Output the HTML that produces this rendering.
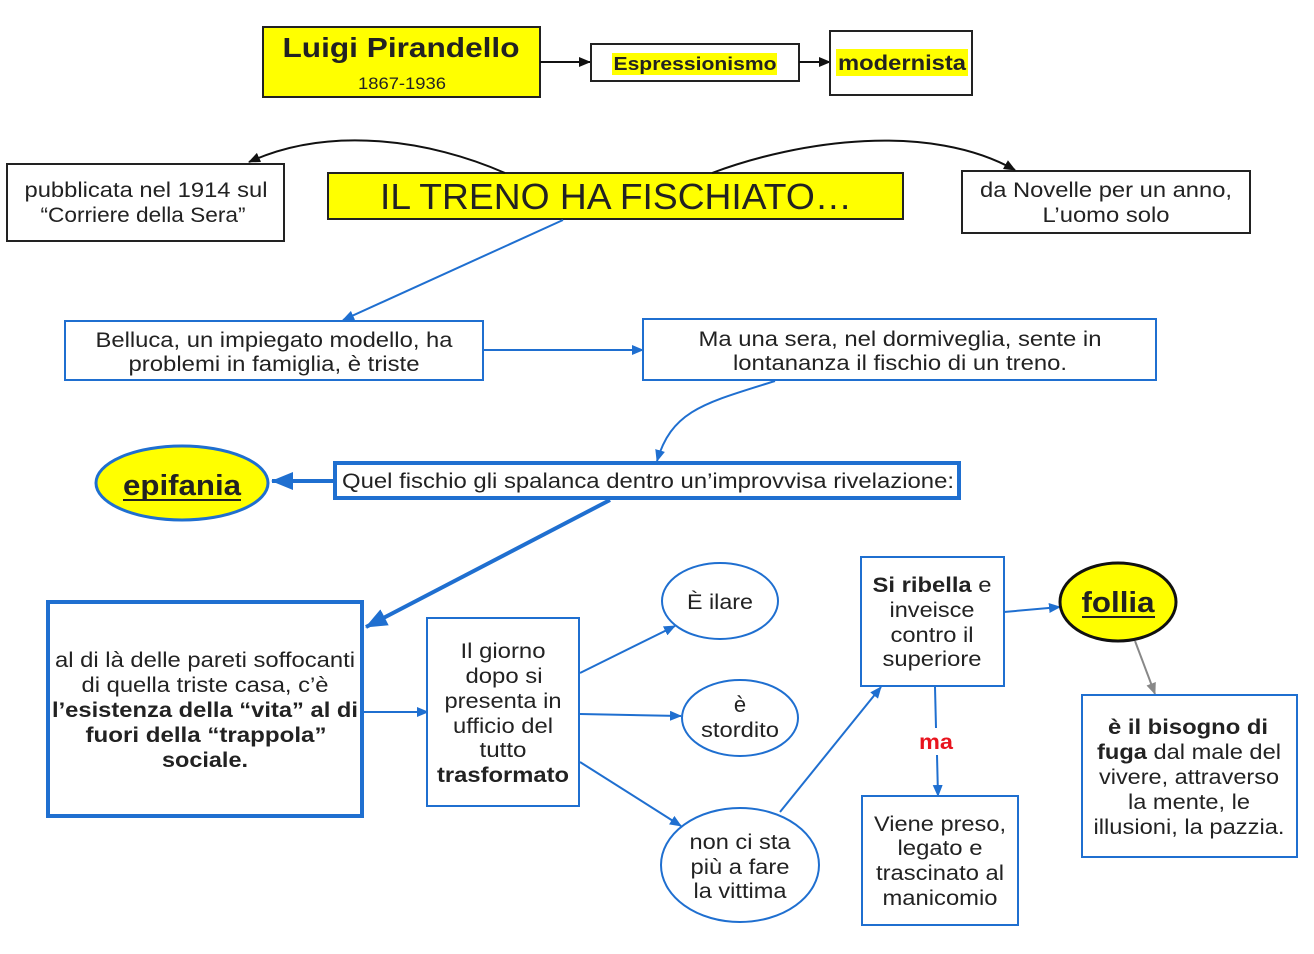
<!DOCTYPE html>
<html><head><meta charset="utf-8">
<style>
html,body{margin:0;padding:0;background:#fff;}
svg{display:block;}
text{font-family:"Liberation Sans",Arial,sans-serif;fill:#222;}
.b{font-weight:bold;}
</style></head>
<body>
<svg width="1314" height="954" viewBox="0 0 1314 954" xmlns="http://www.w3.org/2000/svg">
<defs>
<marker id="ak" markerUnits="userSpaceOnUse" markerWidth="12" markerHeight="10" refX="11" refY="5" orient="auto"><path d="M0,0 L12,5 L0,10 z" fill="#111"/></marker>
<marker id="ab" markerUnits="userSpaceOnUse" markerWidth="12" markerHeight="10" refX="11" refY="5" orient="auto"><path d="M0,0 L12,5 L0,10 z" fill="#1f6fd0"/></marker>
<marker id="ag" markerUnits="userSpaceOnUse" markerWidth="12" markerHeight="10" refX="11" refY="5" orient="auto"><path d="M0,0 L12,5 L0,10 z" fill="#888"/></marker>
<marker id="abig" markerUnits="userSpaceOnUse" markerWidth="22" markerHeight="18" refX="21" refY="9" orient="auto"><path d="M0,0 L22,9 L0,18 z" fill="#1f6fd0"/></marker>
</defs>

<!-- Top row -->
<rect x="263" y="27" width="277" height="70" fill="#ffff00" stroke="#222" stroke-width="2"/>
<text x="401" y="57" font-size="28" class="b" text-anchor="middle" textLength="237" lengthAdjust="spacingAndGlyphs">Luigi Pirandello</text>
<text x="402" y="89" font-size="17" text-anchor="middle" textLength="88" lengthAdjust="spacingAndGlyphs">1867-1936</text>
<line x1="540" y1="62" x2="590" y2="62" stroke="#111" stroke-width="2" marker-end="url(#ak)"/>

<rect x="591" y="44" width="208" height="37" fill="#fff" stroke="#222" stroke-width="2"/>
<rect x="612" y="53" width="165" height="22" fill="#ffff00"/>
<text x="695" y="70" font-size="18" class="b" text-anchor="middle" textLength="163" lengthAdjust="spacingAndGlyphs">Espressionismo</text>
<line x1="799" y1="62" x2="830" y2="62" stroke="#111" stroke-width="2" marker-end="url(#ak)"/>

<rect x="830" y="31" width="142" height="64" fill="#fff" stroke="#222" stroke-width="2"/>
<rect x="836" y="49" width="132" height="27" fill="#ffff00"/>
<text x="902" y="70" font-size="21" class="b" text-anchor="middle" textLength="128" lengthAdjust="spacingAndGlyphs">modernista</text>

<!-- Second row -->
<rect x="7" y="164" width="277" height="77" fill="#fff" stroke="#222" stroke-width="2"/>
<text x="146" y="197" font-size="21" text-anchor="middle" textLength="243" lengthAdjust="spacingAndGlyphs">pubblicata nel 1914 sul</text>
<text x="143" y="222" font-size="21" text-anchor="middle" textLength="205" lengthAdjust="spacingAndGlyphs">“Corriere della Sera”</text>

<rect x="328" y="173" width="575" height="46" fill="#ffff00" stroke="#222" stroke-width="2"/>
<text x="616" y="209" font-size="36" text-anchor="middle" textLength="472" lengthAdjust="spacingAndGlyphs">IL TRENO HA FISCHIATO…</text>

<rect x="962" y="171" width="288" height="62" fill="#fff" stroke="#222" stroke-width="2"/>
<text x="1106" y="197" font-size="21" text-anchor="middle" textLength="252" lengthAdjust="spacingAndGlyphs">da Novelle per un anno,</text>
<text x="1106" y="222" font-size="21" text-anchor="middle" textLength="127" lengthAdjust="spacingAndGlyphs">L’uomo solo</text>

<path d="M505,173 C430,140 330,125 249,162" fill="none" stroke="#111" stroke-width="2" marker-end="url(#ak)"/>
<path d="M712,173 C800,140 930,122 1015,170" fill="none" stroke="#111" stroke-width="2" marker-end="url(#ak)"/>

<line x1="563" y1="220" x2="343" y2="320" stroke="#1f6fd0" stroke-width="2" marker-end="url(#ab)"/>

<!-- Belluca / Ma una sera -->
<rect x="65" y="321" width="418" height="59" fill="#fff" stroke="#1f6fd0" stroke-width="2"/>
<text x="274" y="347" font-size="21" text-anchor="middle" textLength="357" lengthAdjust="spacingAndGlyphs">Belluca, un impiegato modello, ha</text>
<text x="274" y="371" font-size="21" text-anchor="middle" textLength="291" lengthAdjust="spacingAndGlyphs">problemi in famiglia, è triste</text>
<line x1="483" y1="350" x2="643" y2="350" stroke="#1f6fd0" stroke-width="2" marker-end="url(#ab)"/>

<rect x="643" y="319" width="513" height="61" fill="#fff" stroke="#1f6fd0" stroke-width="2"/>
<text x="900" y="346" font-size="21" text-anchor="middle" textLength="403" lengthAdjust="spacingAndGlyphs">Ma una sera, nel dormiveglia, sente in</text>
<text x="900" y="370" font-size="21" text-anchor="middle" textLength="334" lengthAdjust="spacingAndGlyphs">lontananza il fischio di un treno.</text>

<path d="M775,381 C705,403 672,410 657,461" fill="none" stroke="#1f6fd0" stroke-width="2" marker-end="url(#ab)"/>

<!-- Quel fischio -->
<rect x="335" y="463" width="624" height="35" fill="#fff" stroke="#1f6fd0" stroke-width="4"/>
<text x="648" y="488" font-size="21" text-anchor="middle" textLength="612" lengthAdjust="spacingAndGlyphs">Quel fischio gli spalanca dentro un’improvvisa rivelazione:</text>
<line x1="333" y1="481" x2="272" y2="481" stroke="#1f6fd0" stroke-width="4" marker-end="url(#abig)"/>

<ellipse cx="182" cy="483" rx="86" ry="37" fill="#ffff00" stroke="#1f6fd0" stroke-width="3"/>
<text x="182" y="495" font-size="29" class="b" text-anchor="middle" textLength="118" lengthAdjust="spacingAndGlyphs">epifania</text>
<line x1="123" y1="500" x2="241" y2="500" stroke="#222" stroke-width="2"/>

<line x1="610" y1="500" x2="366" y2="627" stroke="#1f6fd0" stroke-width="4" marker-end="url(#abig)"/>

<!-- Big box -->
<rect x="48" y="602" width="314" height="214" fill="#fff" stroke="#1f6fd0" stroke-width="4"/>
<text x="205" y="667" font-size="21" text-anchor="middle" textLength="300" lengthAdjust="spacingAndGlyphs">al di là delle pareti soffocanti</text>
<text x="205" y="692" font-size="21" text-anchor="middle" textLength="247" lengthAdjust="spacingAndGlyphs">di quella triste casa, c’è</text>
<text x="205" y="717" font-size="21" class="b" text-anchor="middle" textLength="306" lengthAdjust="spacingAndGlyphs">l’esistenza della “vita” al di</text>
<text x="206" y="742" font-size="21" class="b" text-anchor="middle" textLength="241" lengthAdjust="spacingAndGlyphs">fuori della “trappola”</text>
<text x="205" y="767" font-size="21" class="b" text-anchor="middle" textLength="86" lengthAdjust="spacingAndGlyphs">sociale.</text>
<line x1="362" y1="712" x2="428" y2="712" stroke="#1f6fd0" stroke-width="2" marker-end="url(#ab)"/>

<!-- Il giorno -->
<rect x="427" y="618" width="152" height="188" fill="#fff" stroke="#1f6fd0" stroke-width="2"/>
<text x="503" y="658" font-size="21" text-anchor="middle" textLength="85" lengthAdjust="spacingAndGlyphs">Il giorno</text>
<text x="504" y="683" font-size="21" text-anchor="middle" textLength="77" lengthAdjust="spacingAndGlyphs">dopo si</text>
<text x="503" y="708" font-size="21" text-anchor="middle" textLength="117" lengthAdjust="spacingAndGlyphs">presenta in</text>
<text x="503" y="733" font-size="21" text-anchor="middle" textLength="100" lengthAdjust="spacingAndGlyphs">ufficio del</text>
<text x="503" y="757" font-size="21" text-anchor="middle" textLength="47" lengthAdjust="spacingAndGlyphs">tutto</text>
<text x="503" y="782" font-size="21" class="b" text-anchor="middle" textLength="132" lengthAdjust="spacingAndGlyphs">trasformato</text>

<line x1="580" y1="673" x2="675" y2="626" stroke="#1f6fd0" stroke-width="2" marker-end="url(#ab)"/>
<line x1="580" y1="714" x2="681" y2="716" stroke="#1f6fd0" stroke-width="2" marker-end="url(#ab)"/>
<line x1="580" y1="762" x2="681" y2="826" stroke="#1f6fd0" stroke-width="2" marker-end="url(#ab)"/>

<ellipse cx="720" cy="601" rx="58" ry="38" fill="#fff" stroke="#1f6fd0" stroke-width="2"/>
<text x="720" y="609" font-size="21" text-anchor="middle" textLength="66" lengthAdjust="spacingAndGlyphs">È ilare</text>

<ellipse cx="740" cy="718" rx="58" ry="38" fill="#fff" stroke="#1f6fd0" stroke-width="2"/>
<text x="740" y="712" font-size="22" text-anchor="middle">è</text>
<text x="740" y="737" font-size="21" text-anchor="middle" textLength="78" lengthAdjust="spacingAndGlyphs">stordito</text>

<ellipse cx="740" cy="865" rx="79" ry="57" fill="#fff" stroke="#1f6fd0" stroke-width="2"/>
<text x="740" y="849" font-size="21" text-anchor="middle" textLength="101" lengthAdjust="spacingAndGlyphs">non ci sta</text>
<text x="740" y="874" font-size="21" text-anchor="middle" textLength="99" lengthAdjust="spacingAndGlyphs">più a fare</text>
<text x="740" y="898" font-size="21" text-anchor="middle" textLength="93" lengthAdjust="spacingAndGlyphs">la vittima</text>

<line x1="780" y1="812" x2="881" y2="687" stroke="#1f6fd0" stroke-width="2" marker-end="url(#ab)"/>

<!-- Si ribella -->
<rect x="861" y="557" width="143" height="129" fill="#fff" stroke="#1f6fd0" stroke-width="2"/>
<text x="932" y="592" font-size="21" text-anchor="middle" textLength="119" lengthAdjust="spacingAndGlyphs"><tspan class="b">Si ribella</tspan> e</text>
<text x="932" y="617" font-size="21" text-anchor="middle" textLength="85" lengthAdjust="spacingAndGlyphs">inveisce</text>
<text x="932" y="642" font-size="21" text-anchor="middle" textLength="83" lengthAdjust="spacingAndGlyphs">contro il</text>
<text x="932" y="666" font-size="21" text-anchor="middle" textLength="99" lengthAdjust="spacingAndGlyphs">superiore</text>

<line x1="935" y1="687" x2="936" y2="728" stroke="#1f6fd0" stroke-width="2"/>
<line x1="937" y1="755" x2="938" y2="796" stroke="#1f6fd0" stroke-width="2" marker-end="url(#ab)"/>
<text x="936" y="749" font-size="21" class="b" text-anchor="middle" textLength="34" lengthAdjust="spacingAndGlyphs" style="fill:#e8141e">ma</text>

<rect x="862" y="796" width="156" height="129" fill="#fff" stroke="#1f6fd0" stroke-width="2"/>
<text x="940" y="831" font-size="21" text-anchor="middle" textLength="132" lengthAdjust="spacingAndGlyphs">Viene preso,</text>
<text x="940" y="855" font-size="21" text-anchor="middle" textLength="85" lengthAdjust="spacingAndGlyphs">legato e</text>
<text x="940" y="880" font-size="21" text-anchor="middle" textLength="128" lengthAdjust="spacingAndGlyphs">trascinato al</text>
<text x="940" y="905" font-size="21" text-anchor="middle" textLength="115" lengthAdjust="spacingAndGlyphs">manicomio</text>

<line x1="1004" y1="612" x2="1060" y2="607" stroke="#1f6fd0" stroke-width="2" marker-end="url(#ab)"/>

<!-- follia -->
<ellipse cx="1118" cy="602" rx="58" ry="39" fill="#ffff00" stroke="#111" stroke-width="3"/>
<text x="1118" y="612" font-size="29" class="b" text-anchor="middle" textLength="73" lengthAdjust="spacingAndGlyphs">follia</text>
<line x1="1082" y1="617" x2="1155" y2="617" stroke="#222" stroke-width="2"/>

<line x1="1135" y1="641" x2="1155" y2="694" stroke="#888" stroke-width="2" marker-end="url(#ag)"/>

<rect x="1082" y="695" width="215" height="162" fill="#fff" stroke="#1f6fd0" stroke-width="2"/>
<text x="1188" y="734" font-size="21" class="b" text-anchor="middle" textLength="160" lengthAdjust="spacingAndGlyphs">è il bisogno di</text>
<text x="1189" y="759" font-size="21" text-anchor="middle" textLength="184" lengthAdjust="spacingAndGlyphs"><tspan class="b">fuga</tspan> dal male del</text>
<text x="1189" y="784" font-size="21" text-anchor="middle" textLength="180" lengthAdjust="spacingAndGlyphs">vivere, attraverso</text>
<text x="1189" y="809" font-size="21" text-anchor="middle" textLength="122" lengthAdjust="spacingAndGlyphs">la mente, le</text>
<text x="1189" y="834" font-size="21" text-anchor="middle" textLength="191" lengthAdjust="spacingAndGlyphs">illusioni, la pazzia.</text>
</svg>
</body></html>
